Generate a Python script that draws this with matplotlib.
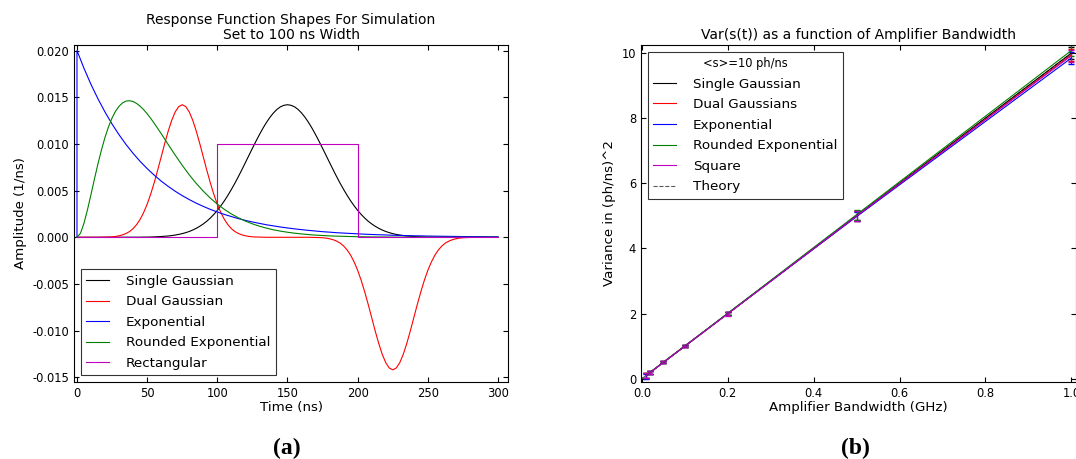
import matplotlib
matplotlib.use('Agg')
import matplotlib.pyplot as plt
import numpy as np

# ---- panel (a): response function shapes
# single gaussian, every 2.5 ns between 45 and 255 ns (zero elsewhere)
single_time = np.concatenate([[0], np.arange(45, 255.1, 2.5), [300]])
single_gauss = [0,
                0.00001, 0.00002, 0.00002, 0.00003, 0.00004, 0.00006, 0.00008, 0.00011, 0.00014, 0.00018,
                0.00024, 0.00031, 0.00039, 0.00050, 0.00062, 0.00078, 0.00096, 0.00118, 0.00143, 0.00172,
                0.00206, 0.00245, 0.00288, 0.00337, 0.00390, 0.00449, 0.00512, 0.00579, 0.00650, 0.00724,
                0.00800, 0.00877, 0.00953, 0.01028, 0.01100, 0.01168, 0.01230, 0.01285, 0.01332, 0.01370,
                0.01398, 0.01414, 0.01420,
                0.01414, 0.01398, 0.01370, 0.01332, 0.01285, 0.01230, 0.01168, 0.01100, 0.01028, 0.00953,
                0.00877, 0.00800, 0.00724, 0.00650, 0.00579, 0.00512, 0.00449, 0.00390, 0.00337, 0.00288,
                0.00245, 0.00206, 0.00172, 0.00143, 0.00118, 0.00096, 0.00078, 0.00062, 0.00050, 0.00039,
                0.00031, 0.00024, 0.00018, 0.00014, 0.00011, 0.00008, 0.00006, 0.00004, 0.00003, 0.00002,
                0.00002, 0.00001,
                0]

# dual gaussian, every 2.5 ns around each lobe
dual_time = np.concatenate([[0], np.arange(15, 135.1, 2.5), np.arange(165, 285.1, 2.5), [300]])
dual_pos = [0.00000, 0.00001, 0.00002, 0.00003, 0.00005, 0.00009, 0.00016, 0.00026, 0.00041, 0.00062,
            0.00093, 0.00136, 0.00192, 0.00265, 0.00354, 0.00461, 0.00584, 0.00719, 0.00861, 0.01004,
            0.01137, 0.01253, 0.01343, 0.01400, 0.01420, 0.01400, 0.01343, 0.01253, 0.01137, 0.01004,
            0.00861, 0.00719, 0.00584, 0.00461, 0.00354, 0.00265, 0.00192, 0.00136, 0.00093, 0.00062,
            0.00041, 0.00026, 0.00016, 0.00009, 0.00005, 0.00003, 0.00002, 0.00001, 0.00000]
dual_neg = [-0.00000, -0.00001, -0.00002, -0.00003, -0.00005, -0.00009, -0.00016, -0.00026, -0.00041, -0.00062,
            -0.00093, -0.00136, -0.00192, -0.00265, -0.00354, -0.00461, -0.00584, -0.00719, -0.00861, -0.01004,
            -0.01137, -0.01253, -0.01343, -0.01400, -0.01420, -0.01400, -0.01343, -0.01253, -0.01137, -0.01004,
            -0.00861, -0.00719, -0.00584, -0.00461, -0.00354, -0.00265, -0.00192, -0.00136, -0.00093, -0.00062,
            -0.00041, -0.00026, -0.00016, -0.00009, -0.00005, -0.00003, -0.00002, -0.00001, -0.00000]

# exponential, every 5 ns (starts with a jump at t=0)
exp_time = np.concatenate([[0], np.arange(0, 301, 5)])
exponential = [0,
               0.02000, 0.01810, 0.01637, 0.01482, 0.01341, 0.01213, 0.01098, 0.00993, 0.00899, 0.00813,
               0.00736, 0.00666, 0.00602, 0.00545, 0.00493, 0.00446, 0.00404, 0.00365, 0.00331, 0.00299,
               0.00271, 0.00245, 0.00222, 0.00200, 0.00181, 0.00164, 0.00149, 0.00134, 0.00122, 0.00110,
               0.00100, 0.00090, 0.00082, 0.00074, 0.00067, 0.00060, 0.00055, 0.00049, 0.00045, 0.00041,
               0.00037, 0.00033, 0.00030, 0.00027, 0.00025, 0.00022, 0.00020, 0.00018, 0.00016, 0.00015,
               0.00013, 0.00012, 0.00011, 0.00010, 0.00009, 0.00008, 0.00007, 0.00007, 0.00006, 0.00005, 0.00005]

# rounded exponential, 2.5 ns up to 60 ns then 5 ns
rounded_time = np.concatenate([np.arange(0, 60, 2.5), np.arange(60, 301, 5)])
rounded_exp = [0, 0.00043, 0.00151, 0.00296, 0.00460, 0.00628, 0.00790, 0.00939, 0.01072, 0.01185,
               0.01278, 0.01351, 0.01404, 0.01440, 0.01459, 0.01463, 0.01454, 0.01434, 0.01404, 0.01367,
               0.01323, 0.01275, 0.01222, 0.01167,
               0.01110, 0.00994, 0.00880, 0.00771, 0.00669, 0.00577, 0.00494, 0.00420, 0.00355, 0.00299,
               0.00250, 0.00209, 0.00173, 0.00144, 0.00119, 0.00098, 0.00080, 0.00066, 0.00054, 0.00044,
               0.00036, 0.00029, 0.00023, 0.00019, 0.00015, 0.00012, 0.00010, 0.00008, 0.00006, 0.00005,
               0.00004, 0.00003, 0.00003, 0.00002, 0.00002, 0.00001, 0.00001, 0.00001, 0.00001,
               0, 0, 0, 0, 0, 0, 0, 0, 0, 0]

rect_time = [0, 100, 100, 200, 200, 300]
rect_amp = [0, 0, 0.01, 0.01, 0, 0]

# ---- panel (b): variance vs amplifier bandwidth
bandwidth = [0.01, 0.02, 0.05, 0.1, 0.2, 0.5, 1.0]
var_single = [0.10, 0.20, 0.50, 1.00, 2.00, 5.01, 10.00]
var_dual = [0.10, 0.20, 0.50, 1.00, 2.00, 4.99, 9.95]
var_exp = [0.07, 0.20, 0.50, 1.00, 2.00, 4.98, 9.85]
var_rounded = [0.10, 0.20, 0.51, 1.01, 2.01, 5.04, 10.08]
var_square = [0.10, 0.19, 0.50, 1.00, 1.99, 5.00, 9.92]
var_err = [0.07, 0.04, 0.03, 0.03, 0.05, 0.15, 0.18]
theory_bw = [0.0, 1.0]
theory_var = [0.0, 10.0]

plt.rcParams['axes.unicode_minus'] = False
plt.rcParams['xtick.direction'] = 'in'
plt.rcParams['ytick.direction'] = 'in'
plt.rcParams['xtick.top'] = True
plt.rcParams['ytick.right'] = True
plt.rcParams['xtick.labelsize'] = 8.3
plt.rcParams['ytick.labelsize'] = 8.3
plt.rcParams['axes.linewidth'] = 0.8

fig = plt.figure(figsize=(10.76, 4.59), dpi=100)

ax1 = fig.add_axes([0.0688, 0.1678, 0.4033, 0.7342])
ax1.plot(single_time, single_gauss, color='k', lw=0.8, label='Single Gaussian')
ax1.plot(dual_time, [0] + dual_pos + dual_neg + [0], color='r', lw=0.8, label='Dual Gaussian')
ax1.plot(exp_time, exponential, color='b', lw=0.8, label='Exponential')
ax1.plot(rounded_time, rounded_exp, color='g', lw=0.8, label='Rounded Exponential')
ax1.plot(rect_time, rect_amp, color='m', lw=0.8, label='Rectangular')
ax1.set_xlim(-2.1, 307.1)
ax1.set_ylim(-0.0155, 0.0206)
ax1.set_xticks(range(0, 301, 50))
ax1.set_yticks(np.arange(-0.015, 0.0201, 0.005))
ax1.yaxis.set_major_formatter(matplotlib.ticker.FormatStrFormatter('%.3f'))
ax1.set_xlabel('Time (ns)', fontsize=9.6, labelpad=1)
ax1.set_ylabel('Amplitude (1/ns)', fontsize=9.6)
ax1.set_title('Response Function Shapes For Simulation\nSet to 100 ns Width', fontsize=10, pad=4,
              linespacing=1.1)
leg1 = ax1.legend(loc='lower left', fontsize=9.7, fancybox=False, handlelength=1.7,
                  handletextpad=1.25, labelspacing=0.56)
leg1.get_frame().set_edgecolor('k')
leg1.get_frame().set_linewidth(0.8)

ax2 = fig.add_axes([0.5957, 0.1678, 0.4040, 0.7342])
handles = []
for vals, c, lab in [(var_single, 'k', 'Single Gaussian'), (var_dual, 'r', 'Dual Gaussians'),
                     (var_exp, 'b', 'Exponential'), (var_rounded, 'g', 'Rounded Exponential'),
                     (var_square, 'm', 'Square')]:
    eb = ax2.errorbar(bandwidth, vals, yerr=var_err, color=c, lw=0.8, elinewidth=0.8, capsize=2)
    eb[0].set_label(lab)
    handles.append(eb[0])
th, = ax2.plot(theory_bw, theory_var, '--', color='0.35', lw=0.8, label='Theory')
handles.append(th)
ax2.set_xlim(-0.002, 1.01)
ax2.set_ylim(-0.1, 10.25)
ax2.set_xticks([0.0, 0.2, 0.4, 0.6, 0.8, 1.0])
ax2.set_yticks(range(0, 11, 2))
ax2.set_xlabel('Amplifier Bandwidth (GHz)', fontsize=9.6, labelpad=1)
ax2.set_ylabel('Variance in (ph/ns)^2', fontsize=9.6)
ax2.set_title('Var(s(t)) as a function of Amplifier Bandwidth', fontsize=10, pad=4)
leg2 = ax2.legend(handles=handles, loc='upper left', fontsize=9.7, fancybox=False, handlelength=1.7,
                  handletextpad=1.25, labelspacing=0.56, title='<s>=10 ph/ns', title_fontsize=8.3)
leg2.get_frame().set_edgecolor('k')
leg2.get_frame().set_linewidth(0.8)

fig.text(0.2667, 0.022, '(a)', family='Liberation Serif', weight='bold', fontsize=17,
         ha='center', va='center')
fig.text(0.7946, 0.022, '(b)', family='Liberation Serif', weight='bold', fontsize=17,
         ha='center', va='center')

fig.savefig('out.png', dpi=100, facecolor='white')
